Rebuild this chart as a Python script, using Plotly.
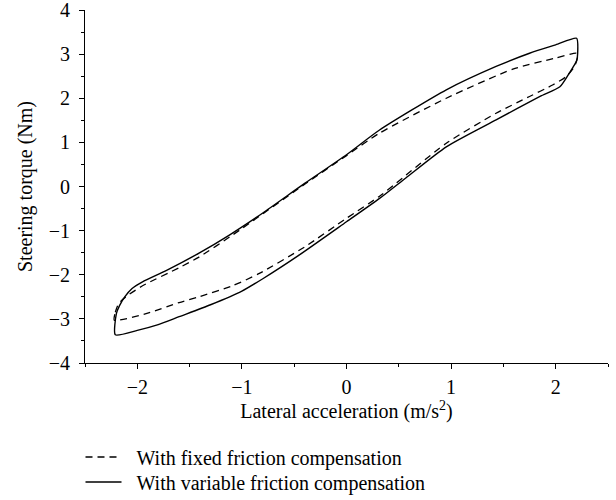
import plotly.graph_objects as go

# Variable friction compensation (solid loop): upper branch left->right, then lower branch right->left
var_x = [-2.21, -2.20, -2.17, -2.12, -2.05, -1.95, -1.72, -1.41, -1.12, -0.80, -0.40, 0.0, 0.316,
         0.954, 1.43, 1.75, 2.0, 2.20, 2.21, 2.20, 2.13, 2.04, 1.85, 1.43, 0.954, 0.57, 0.316,
         0.0, -0.45, -0.80, -1.0, -1.30, -1.60, -1.80, -2.0, -2.21]
var_y = [-3.36, -2.88, -2.70, -2.50, -2.31, -2.16, -1.90, -1.51, -1.10, -0.60, 0.07, 0.72, 1.28,
         2.19, 2.72, 3.02, 3.21, 3.36, 3.02, 2.85, 2.57, 2.26, 2.04, 1.51, 0.90, 0.20, -0.27,
         -0.80, -1.55, -2.09, -2.37, -2.68, -2.95, -3.13, -3.26, -3.36]

# Fixed friction compensation (dashed loop)
fix_x = [-2.22, -2.21, -2.18, -2.11, -1.95, -1.60, -1.41, -1.09, -0.40, 0.0, 0.316, 0.954, 1.59,
         2.0, 2.20, 2.21, 2.18, 2.10, 1.97, 1.75, 1.43, 0.954, 0.316, 0.0, -0.40, -0.833, -1.09,
         -1.41, -1.60, -1.885, -2.22]
fix_y = [-3.03, -2.85, -2.66, -2.50, -2.25, -1.84, -1.60, -1.10, 0.05, 0.70, 1.21, 2.00, 2.66,
         2.91, 3.02, 2.95, 2.72, 2.49, 2.30, 2.04, 1.66, 0.98, -0.22, -0.72, -1.37, -1.97, -2.25,
         -2.50, -2.63, -2.86, -3.03]

x_ticks = [-2, -1, 0, 1, 2]
y_ticks = [-4, -3, -2, -1, 0, 1, 2, 3, 4]

FONT = "Liberation Serif"
FS = 20
FT = 20
NB = "\u00a0\u00a0"


def lab(v):
    return ("\u2212" + str(-v)) if v < 0 else str(v)


fig = go.Figure()
fig.add_trace(go.Scatter(x=fix_x, y=fix_y, mode="lines", name=NB + "With fixed friction compensation",
                         legend="legend",
                         line=dict(color="black", width=1.3, dash="7px,5px", shape="spline", smoothing=0.6)))
fig.add_trace(go.Scatter(x=var_x, y=var_y, mode="lines", name=NB + "With variable friction compensation",
                         legend="legend2",
                         line=dict(color="black", width=1.4, shape="spline", smoothing=0.6)))

axis_common = dict(showline=True, linecolor="black", linewidth=1, ticks="outside", ticklen=5,
                   tickcolor="black", showgrid=False, zeroline=False, mirror=False,
                   ticklabeloverflow="allow",
                   tickfont=dict(family=FONT, size=FS, color="black"))

fig.update_xaxes(range=[-2.5, 2.5], tickvals=x_ticks, ticktext=[lab(v) for v in x_ticks],
                 ticklabelstandoff=1,
                 minor=dict(dtick=0.5, tick0=0, ticks="outside", ticklen=3, tickcolor="black"),
                 title=dict(text="Lateral acceleration (m/s<sup>2</sup>)",
                            font=dict(family=FONT, size=FT, color="black"), standoff=6),
                 **axis_common)
fig.update_yaxes(range=[-4, 4], tickvals=y_ticks, ticktext=[lab(v) for v in y_ticks],
                 ticklabelstandoff=5,
                 minor=dict(dtick=0.5, tick0=0, ticks="outside", ticklen=3, tickcolor="black"),
                 title=dict(text="Steering torque (Nm)", font=dict(family=FONT, size=FT, color="black"),
                            standoff=10),
                 **axis_common)

leg_common = dict(x=-0.0086, xref="paper", yref="container", xanchor="left", yanchor="middle",
                  orientation="v", font=dict(family=FONT, size=FT, color="black"),
                  bgcolor="rgba(0,0,0,0)", itemwidth=36, borderwidth=0)

fig.update_layout(
    width=616, height=500,
    margin=dict(l=85, r=8, t=10, b=137, autoexpand=False),
    plot_bgcolor="white", paper_bgcolor="white",
    font=dict(family=FONT, size=FS, color="black"),
    showlegend=True,
    legend=dict(y=1 - 457 / 500, **leg_common),
    legend2=dict(y=1 - 482 / 500, **leg_common),
)

fig.write_html("out.html")
